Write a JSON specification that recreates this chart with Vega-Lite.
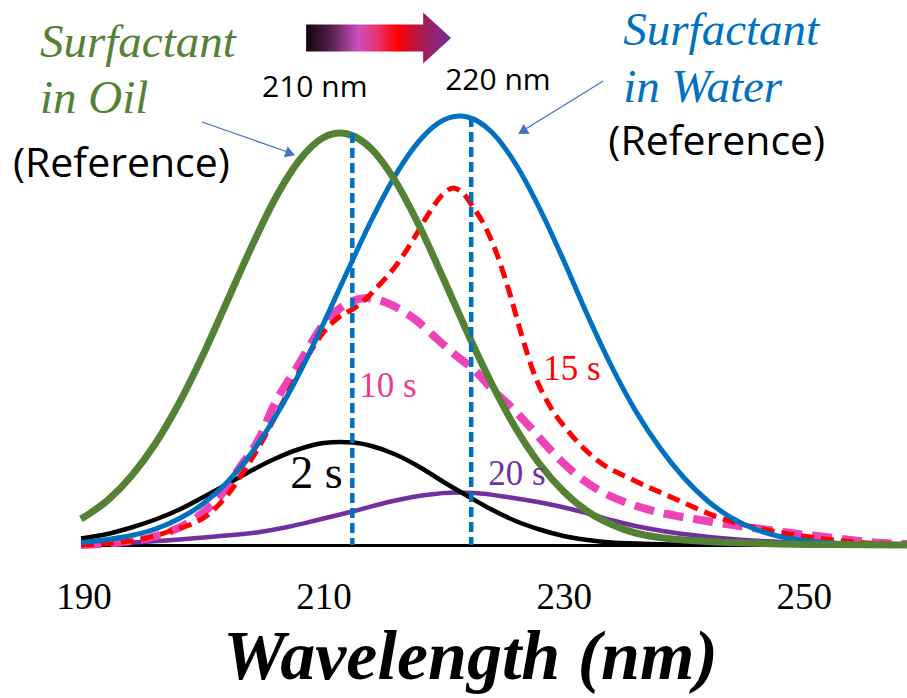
{
  "$schema": "https://vega.github.io/schema/vega-lite/v6.json",
  "width": 826,
  "height": 545,
  "autosize": {"type": "none"},
  "padding": {"left": 81, "top": 0, "right": 0, "bottom": 153},
  "background": "white",
  "config": {
    "view": {"stroke": null},
    "axisX": {
      "domainColor": "black", "domainWidth": 3, "ticks": false, "grid": false,
      "labelFont": "Liberation Serif", "labelFontSize": 37, "labelColor": "black",
      "labelPadding": 63, "labelBaseline": "alphabetic", "labelFlush": false,
      "titleFont": "Liberation Serif", "titleFontSize": 70, "titleFontStyle": "italic",
      "titleFontWeight": "bold", "titleColor": "black", "titleX": 389, "titleY": 133,
      "titleBaseline": "alphabetic", "titleAlign": "center", "titleAnchor": "start"
    }
  },
  "datasets": {
    "curves": [
      {"series": "oil", "wavelength": 189.8, "absorbance": 0.052},
      {"series": "oil", "wavelength": 192, "absorbance": 0.089},
      {"series": "oil", "wavelength": 194, "absorbance": 0.138},
      {"series": "oil", "wavelength": 196, "absorbance": 0.203},
      {"series": "oil", "wavelength": 198, "absorbance": 0.285},
      {"series": "oil", "wavelength": 200, "absorbance": 0.382},
      {"series": "oil", "wavelength": 202, "absorbance": 0.489},
      {"series": "oil", "wavelength": 204, "absorbance": 0.596},
      {"series": "oil", "wavelength": 206, "absorbance": 0.694},
      {"series": "oil", "wavelength": 208, "absorbance": 0.770},
      {"series": "oil", "wavelength": 210, "absorbance": 0.815},
      {"series": "oil", "wavelength": 211.4, "absorbance": 0.824},
      {"series": "oil", "wavelength": 212, "absorbance": 0.822},
      {"series": "oil", "wavelength": 214, "absorbance": 0.792},
      {"series": "oil", "wavelength": 216, "absorbance": 0.727},
      {"series": "oil", "wavelength": 218, "absorbance": 0.637},
      {"series": "oil", "wavelength": 220, "absorbance": 0.532},
      {"series": "oil", "wavelength": 222, "absorbance": 0.424},
      {"series": "oil", "wavelength": 224, "absorbance": 0.323},
      {"series": "oil", "wavelength": 226, "absorbance": 0.234},
      {"series": "oil", "wavelength": 228, "absorbance": 0.162},
      {"series": "oil", "wavelength": 230, "absorbance": 0.107},
      {"series": "oil", "wavelength": 232, "absorbance": 0.067},
      {"series": "oil", "wavelength": 234, "absorbance": 0.041},
      {"series": "oil", "wavelength": 236, "absorbance": 0.024},
      {"series": "oil", "wavelength": 238, "absorbance": 0.015},
      {"series": "oil", "wavelength": 240, "absorbance": 0.010},
      {"series": "oil", "wavelength": 244, "absorbance": 0.005},
      {"series": "oil", "wavelength": 248, "absorbance": 0.002},
      {"series": "oil", "wavelength": 252, "absorbance": 0.001},
      {"series": "oil", "wavelength": 258.6, "absorbance": 0.0},

      {"series": "water", "wavelength": 189.8, "absorbance": 0.005},
      {"series": "water", "wavelength": 192, "absorbance": 0.011},
      {"series": "water", "wavelength": 194, "absorbance": 0.019},
      {"series": "water", "wavelength": 196, "absorbance": 0.032},
      {"series": "water", "wavelength": 198, "absorbance": 0.053},
      {"series": "water", "wavelength": 200, "absorbance": 0.083},
      {"series": "water", "wavelength": 202, "absorbance": 0.126},
      {"series": "water", "wavelength": 204, "absorbance": 0.184},
      {"series": "water", "wavelength": 206, "absorbance": 0.257},
      {"series": "water", "wavelength": 208, "absorbance": 0.344},
      {"series": "water", "wavelength": 210, "absorbance": 0.443},
      {"series": "water", "wavelength": 212, "absorbance": 0.548},
      {"series": "water", "wavelength": 214, "absorbance": 0.650},
      {"series": "water", "wavelength": 216, "absorbance": 0.740},
      {"series": "water", "wavelength": 218, "absorbance": 0.809},
      {"series": "water", "wavelength": 220, "absorbance": 0.850},
      {"series": "water", "wavelength": 221.4, "absorbance": 0.858},
      {"series": "water", "wavelength": 222, "absorbance": 0.856},
      {"series": "water", "wavelength": 224, "absorbance": 0.826},
      {"series": "water", "wavelength": 226, "absorbance": 0.762},
      {"series": "water", "wavelength": 228, "absorbance": 0.673},
      {"series": "water", "wavelength": 230, "absorbance": 0.569},
      {"series": "water", "wavelength": 232, "absorbance": 0.459},
      {"series": "water", "wavelength": 234, "absorbance": 0.357},
      {"series": "water", "wavelength": 236, "absorbance": 0.268},
      {"series": "water", "wavelength": 238, "absorbance": 0.195},
      {"series": "water", "wavelength": 240, "absorbance": 0.135},
      {"series": "water", "wavelength": 242, "absorbance": 0.088},
      {"series": "water", "wavelength": 244, "absorbance": 0.054},
      {"series": "water", "wavelength": 246, "absorbance": 0.031},
      {"series": "water", "wavelength": 248, "absorbance": 0.017},
      {"series": "water", "wavelength": 250, "absorbance": 0.009},
      {"series": "water", "wavelength": 252, "absorbance": 0.005},
      {"series": "water", "wavelength": 254, "absorbance": 0.002},
      {"series": "water", "wavelength": 258.6, "absorbance": 0.0},

      {"series": "2 s", "wavelength": 189.8, "absorbance": 0.013},
      {"series": "2 s", "wavelength": 192, "absorbance": 0.022},
      {"series": "2 s", "wavelength": 194, "absorbance": 0.035},
      {"series": "2 s", "wavelength": 196, "absorbance": 0.051},
      {"series": "2 s", "wavelength": 198, "absorbance": 0.071},
      {"series": "2 s", "wavelength": 200, "absorbance": 0.096},
      {"series": "2 s", "wavelength": 202, "absorbance": 0.122},
      {"series": "2 s", "wavelength": 204, "absorbance": 0.149},
      {"series": "2 s", "wavelength": 206, "absorbance": 0.173},
      {"series": "2 s", "wavelength": 208, "absorbance": 0.192},
      {"series": "2 s", "wavelength": 210, "absorbance": 0.204},
      {"series": "2 s", "wavelength": 211.4, "absorbance": 0.206},
      {"series": "2 s", "wavelength": 212.5, "absorbance": 0.205},
      {"series": "2 s", "wavelength": 214, "absorbance": 0.198},
      {"series": "2 s", "wavelength": 216, "absorbance": 0.181},
      {"series": "2 s", "wavelength": 218, "absorbance": 0.156},
      {"series": "2 s", "wavelength": 220, "absorbance": 0.126},
      {"series": "2 s", "wavelength": 222, "absorbance": 0.098},
      {"series": "2 s", "wavelength": 224, "absorbance": 0.071},
      {"series": "2 s", "wavelength": 226, "absorbance": 0.048},
      {"series": "2 s", "wavelength": 228, "absorbance": 0.031},
      {"series": "2 s", "wavelength": 230, "absorbance": 0.018},
      {"series": "2 s", "wavelength": 232, "absorbance": 0.010},
      {"series": "2 s", "wavelength": 234, "absorbance": 0.005},
      {"series": "2 s", "wavelength": 236, "absorbance": 0.003},
      {"series": "2 s", "wavelength": 240, "absorbance": 0.001},
      {"series": "2 s", "wavelength": 258.6, "absorbance": 0.0},

      {"series": "20 s", "wavelength": 189.8, "absorbance": 0.002},
      {"series": "20 s", "wavelength": 194, "absorbance": 0.005},
      {"series": "20 s", "wavelength": 198, "absorbance": 0.011},
      {"series": "20 s", "wavelength": 201, "absorbance": 0.017},
      {"series": "20 s", "wavelength": 204.7, "absorbance": 0.026},
      {"series": "20 s", "wavelength": 207, "absorbance": 0.036},
      {"series": "20 s", "wavelength": 209.5, "absorbance": 0.050},
      {"series": "20 s", "wavelength": 212.4, "absorbance": 0.067},
      {"series": "20 s", "wavelength": 215.8, "absorbance": 0.088},
      {"series": "20 s", "wavelength": 218.5, "absorbance": 0.100},
      {"series": "20 s", "wavelength": 221, "absorbance": 0.105},
      {"series": "20 s", "wavelength": 222.6, "absorbance": 0.104},
      {"series": "20 s", "wavelength": 225.55, "absorbance": 0.095},
      {"series": "20 s", "wavelength": 229.7, "absorbance": 0.077},
      {"series": "20 s", "wavelength": 232.5, "absorbance": 0.060},
      {"series": "20 s", "wavelength": 234.1, "absorbance": 0.049},
      {"series": "20 s", "wavelength": 235.8, "absorbance": 0.039},
      {"series": "20 s", "wavelength": 238.5, "absorbance": 0.027},
      {"series": "20 s", "wavelength": 241.4, "absorbance": 0.018},
      {"series": "20 s", "wavelength": 246.4, "absorbance": 0.008},
      {"series": "20 s", "wavelength": 252.2, "absorbance": 0.003},
      {"series": "20 s", "wavelength": 258.6, "absorbance": 0.001},

      {"series": "15 s", "wavelength": 189.8, "absorbance": 0.0},
      {"series": "15 s", "wavelength": 192.5, "absorbance": 0.004},
      {"series": "15 s", "wavelength": 194.5, "absorbance": 0.010},
      {"series": "15 s", "wavelength": 197, "absorbance": 0.026},
      {"series": "15 s", "wavelength": 200.55, "absorbance": 0.064},
      {"series": "15 s", "wavelength": 202, "absorbance": 0.100},
      {"series": "15 s", "wavelength": 203.6, "absorbance": 0.156},
      {"series": "15 s", "wavelength": 205, "absorbance": 0.212},
      {"series": "15 s", "wavelength": 206.4, "absorbance": 0.276},
      {"series": "15 s", "wavelength": 208.05, "absorbance": 0.350},
      {"series": "15 s", "wavelength": 209.7, "absorbance": 0.416},
      {"series": "15 s", "wavelength": 211.3, "absorbance": 0.456},
      {"series": "15 s", "wavelength": 212.6, "absorbance": 0.474},
      {"series": "15 s", "wavelength": 214.8, "absorbance": 0.524},
      {"series": "15 s", "wavelength": 216.2, "absorbance": 0.564},
      {"series": "15 s", "wavelength": 217.5, "absorbance": 0.612},
      {"series": "15 s", "wavelength": 218.9, "absorbance": 0.668},
      {"series": "15 s", "wavelength": 220, "absorbance": 0.703},
      {"series": "15 s", "wavelength": 220.8, "absorbance": 0.714},
      {"series": "15 s", "wavelength": 221.6, "absorbance": 0.704},
      {"series": "15 s", "wavelength": 222.4, "absorbance": 0.678},
      {"series": "15 s", "wavelength": 223.6, "absorbance": 0.630},
      {"series": "15 s", "wavelength": 224.5, "absorbance": 0.578},
      {"series": "15 s", "wavelength": 225.55, "absorbance": 0.500},
      {"series": "15 s", "wavelength": 226.5, "absorbance": 0.420},
      {"series": "15 s", "wavelength": 227.5, "absorbance": 0.345},
      {"series": "15 s", "wavelength": 228.8, "absorbance": 0.280},
      {"series": "15 s", "wavelength": 230.3, "absorbance": 0.230},
      {"series": "15 s", "wavelength": 233.05, "absorbance": 0.165},
      {"series": "15 s", "wavelength": 235.8, "absorbance": 0.130},
      {"series": "15 s", "wavelength": 239.5, "absorbance": 0.090},
      {"series": "15 s", "wavelength": 242.8, "absorbance": 0.056},
      {"series": "15 s", "wavelength": 247, "absorbance": 0.030},
      {"series": "15 s", "wavelength": 251.1, "absorbance": 0.014},
      {"series": "15 s", "wavelength": 255.3, "absorbance": 0.004},
      {"series": "15 s", "wavelength": 258.6, "absorbance": 0.001},

      {"series": "10 s", "wavelength": 189.8, "absorbance": 0.0},
      {"series": "10 s", "wavelength": 192.5, "absorbance": 0.004},
      {"series": "10 s", "wavelength": 195.8, "absorbance": 0.016},
      {"series": "10 s", "wavelength": 199.1, "absorbance": 0.050},
      {"series": "10 s", "wavelength": 201.4, "absorbance": 0.098},
      {"series": "10 s", "wavelength": 203.05, "absorbance": 0.156},
      {"series": "10 s", "wavelength": 204.7, "absorbance": 0.216},
      {"series": "10 s", "wavelength": 205.8, "absorbance": 0.276},
      {"series": "10 s", "wavelength": 207.8, "absorbance": 0.356},
      {"series": "10 s", "wavelength": 210.3, "absorbance": 0.450},
      {"series": "10 s", "wavelength": 212.2, "absorbance": 0.486},
      {"series": "10 s", "wavelength": 213.6, "absorbance": 0.494},
      {"series": "10 s", "wavelength": 215.3, "absorbance": 0.484},
      {"series": "10 s", "wavelength": 217.8, "absorbance": 0.448},
      {"series": "10 s", "wavelength": 219.1, "absorbance": 0.420},
      {"series": "10 s", "wavelength": 220.3, "absorbance": 0.394},
      {"series": "10 s", "wavelength": 221.4, "absorbance": 0.372},
      {"series": "10 s", "wavelength": 222.3, "absorbance": 0.356},
      {"series": "10 s", "wavelength": 224.1, "absorbance": 0.310},
      {"series": "10 s", "wavelength": 225.8, "absorbance": 0.272},
      {"series": "10 s", "wavelength": 227.2, "absorbance": 0.236},
      {"series": "10 s", "wavelength": 228.6, "absorbance": 0.198},
      {"series": "10 s", "wavelength": 229.8, "absorbance": 0.168},
      {"series": "10 s", "wavelength": 231.2, "absorbance": 0.138},
      {"series": "10 s", "wavelength": 233.05, "absorbance": 0.108},
      {"series": "10 s", "wavelength": 235.8, "absorbance": 0.080},
      {"series": "10 s", "wavelength": 238.6, "absorbance": 0.062},
      {"series": "10 s", "wavelength": 241.4, "absorbance": 0.050},
      {"series": "10 s", "wavelength": 244.1, "absorbance": 0.040},
      {"series": "10 s", "wavelength": 248.3, "absorbance": 0.026},
      {"series": "10 s", "wavelength": 252.5, "absorbance": 0.014},
      {"series": "10 s", "wavelength": 256.6, "absorbance": 0.004},
      {"series": "10 s", "wavelength": 258.6, "absorbance": 0.002}
    ]
  },
  "encoding": {
    "x": {"field": "wavelength", "type": "quantitative", "title": "Wavelength (nm)",
          "scale": {"domain": [189.8, 258.6], "nice": false, "zero": false},
          "axis": {"values": [190, 210, 230, 250]}},
    "y": {"field": "absorbance", "type": "quantitative",
          "scale": {"domain": [0, 1.09], "nice": false, "zero": false}, "axis": null}
  },
  "layer": [
    {
      "data": {"name": "curves"},
      "transform": [{"filter": "datum.series === '20 s'"}],
      "mark": {"type": "line", "interpolate": "monotone", "color": "#7030A0", "strokeWidth": 4.5}
    },
    {
      "data": {"name": "curves"},
      "transform": [{"filter": "datum.series === '2 s'"}],
      "mark": {"type": "line", "interpolate": "monotone", "color": "#000000", "strokeWidth": 4.5}
    },
    {
      "data": {"name": "curves"},
      "transform": [{"filter": "datum.series === '10 s'"}],
      "mark": {"type": "line", "interpolate": "monotone", "color": "#EF42B8", "strokeWidth": 8, "strokeDash": [20, 10]}
    },
    {
      "data": {"name": "curves"},
      "transform": [{"filter": "datum.series === '15 s'"}],
      "mark": {"type": "line", "interpolate": "monotone", "color": "#FF0000", "strokeWidth": 5, "strokeDash": [13, 7]}
    },
    {
      "data": {"name": "curves"},
      "transform": [{"filter": "datum.series === 'water'"}],
      "mark": {"type": "line", "interpolate": "monotone", "color": "#0070C0", "strokeWidth": 5}
    },
    {
      "data": {"name": "curves"},
      "transform": [{"filter": "datum.series === 'oil'"}],
      "mark": {"type": "line", "interpolate": "monotone", "color": "#548235", "strokeWidth": 7}
    },
    {
      "data": {"values": [
        {"wavelength": 212.4, "absorbance": 0.824},
        {"wavelength": 222.3, "absorbance": 0.856}
      ]},
      "mark": {"type": "rule", "color": "#0070C0", "strokeWidth": 4.5, "strokeDash": [10, 5]},
      "encoding": {"y2": {"datum": 0}}
    },
    {
      "data": {"values": [
        {"wavelength": 199.88, "absorbance": 0.846, "wavelength2": 206.9, "absorbance2": 0.787},
        {"wavelength": 233.3, "absorbance": 0.928, "wavelength2": 226.9, "absorbance2": 0.833}
      ]},
      "mark": {"type": "rule", "color": "#4472C4", "strokeWidth": 1.3},
      "encoding": {"x2": {"field": "wavelength2"}, "y2": {"field": "absorbance2"}}
    },
    {
      "data": {"values": [{"wavelength": 207.24, "absorbance": 0.783}]},
      "mark": {"type": "point", "shape": "triangle-right", "filled": true, "color": "#4472C4", "opacity": 1, "size": 130, "angle": 19.5}
    },
    {
      "data": {"values": [{"wavelength": 226.57, "absorbance": 0.827}]},
      "mark": {"type": "point", "shape": "triangle-right", "filled": true, "color": "#4472C4", "opacity": 1, "size": 130, "angle": 148}
    },
    {
      "data": {"values": [{"wavelength": 214.59, "absorbance": 1.014}]},
      "mark": {
        "type": "point", "filled": true, "opacity": 1, "strokeWidth": 0, "size": 21025,
        "shape": "M-1,-0.186L0.614,-0.186L0.614,-0.352L1,0L0.614,0.352L0.614,0.186L-1,0.186Z",
        "fill": {"gradient": "linear", "x1": 0, "y1": 0, "x2": 1, "y2": 0, "stops": [
          {"offset": 0, "color": "#12060e"},
          {"offset": 0.18, "color": "#5a2050"},
          {"offset": 0.36, "color": "#CC4FC0"},
          {"offset": 0.5, "color": "#E8306A"},
          {"offset": 0.63, "color": "#FF0000"},
          {"offset": 0.78, "color": "#B0184A"},
          {"offset": 1, "color": "#7030A0"}
        ]}
      }
    },
    {
      "data": {"values": [
        {"wavelength": 186.38, "absorbance": 0.976, "label": "Surfactant"},
        {"wavelength": 186.38, "absorbance": 0.864, "label": "in Oil"}
      ]},
      "mark": {"type": "text", "align": "left", "baseline": "alphabetic", "font": "Liberation Serif", "fontStyle": "italic", "fontSize": 47, "color": "#548235"},
      "encoding": {"text": {"field": "label"}}
    },
    {
      "data": {"values": [
        {"wavelength": 234.97, "absorbance": 1.0, "label": "Surfactant"},
        {"wavelength": 234.97, "absorbance": 0.886, "label": "in Water"}
      ]},
      "mark": {"type": "text", "align": "left", "baseline": "alphabetic", "font": "Liberation Serif", "fontStyle": "italic", "fontSize": 47, "color": "#0070C0"},
      "encoding": {"text": {"field": "label"}}
    },
    {
      "data": {"values": [
        {"wavelength": 184.13, "absorbance": 0.736, "label": "(Reference)"},
        {"wavelength": 233.72, "absorbance": 0.78, "label": "(Reference)"}
      ]},
      "mark": {"type": "text", "align": "left", "baseline": "alphabetic", "font": "Open Sans", "fontSize": 41, "color": "#000000"},
      "encoding": {"text": {"field": "label"}}
    },
    {
      "data": {"values": [
        {"wavelength": 204.88, "absorbance": 0.896, "label": "210 nm"},
        {"wavelength": 220.13, "absorbance": 0.91, "label": "220 nm"}
      ]},
      "mark": {"type": "text", "align": "left", "baseline": "alphabetic", "font": "Open Sans", "fontSize": 30, "color": "#000000"},
      "encoding": {"text": {"field": "label"}}
    },
    {
      "data": {"values": [{"wavelength": 207.22, "absorbance": 0.114, "label": "2 s"}]},
      "mark": {"type": "text", "align": "left", "baseline": "alphabetic", "font": "Liberation Serif", "fontSize": 46, "color": "#000000"},
      "encoding": {"text": {"field": "label"}}
    },
    {
      "data": {"values": [{"wavelength": 212.97, "absorbance": 0.296, "label": "10 s"}]},
      "mark": {"type": "text", "align": "left", "baseline": "alphabetic", "font": "Liberation Serif", "fontSize": 35, "color": "#EC3A92"},
      "encoding": {"text": {"field": "label"}}
    },
    {
      "data": {"values": [{"wavelength": 228.3, "absorbance": 0.33, "label": "15 s"}]},
      "mark": {"type": "text", "align": "left", "baseline": "alphabetic", "font": "Liberation Serif", "fontSize": 35, "color": "#FF0000"},
      "encoding": {"text": {"field": "label"}}
    },
    {
      "data": {"values": [{"wavelength": 223.72, "absorbance": 0.12, "label": "20 s"}]},
      "mark": {"type": "text", "align": "left", "baseline": "alphabetic", "font": "Liberation Serif", "fontSize": 35, "color": "#7030A0"},
      "encoding": {"text": {"field": "label"}}
    }
  ]
}
